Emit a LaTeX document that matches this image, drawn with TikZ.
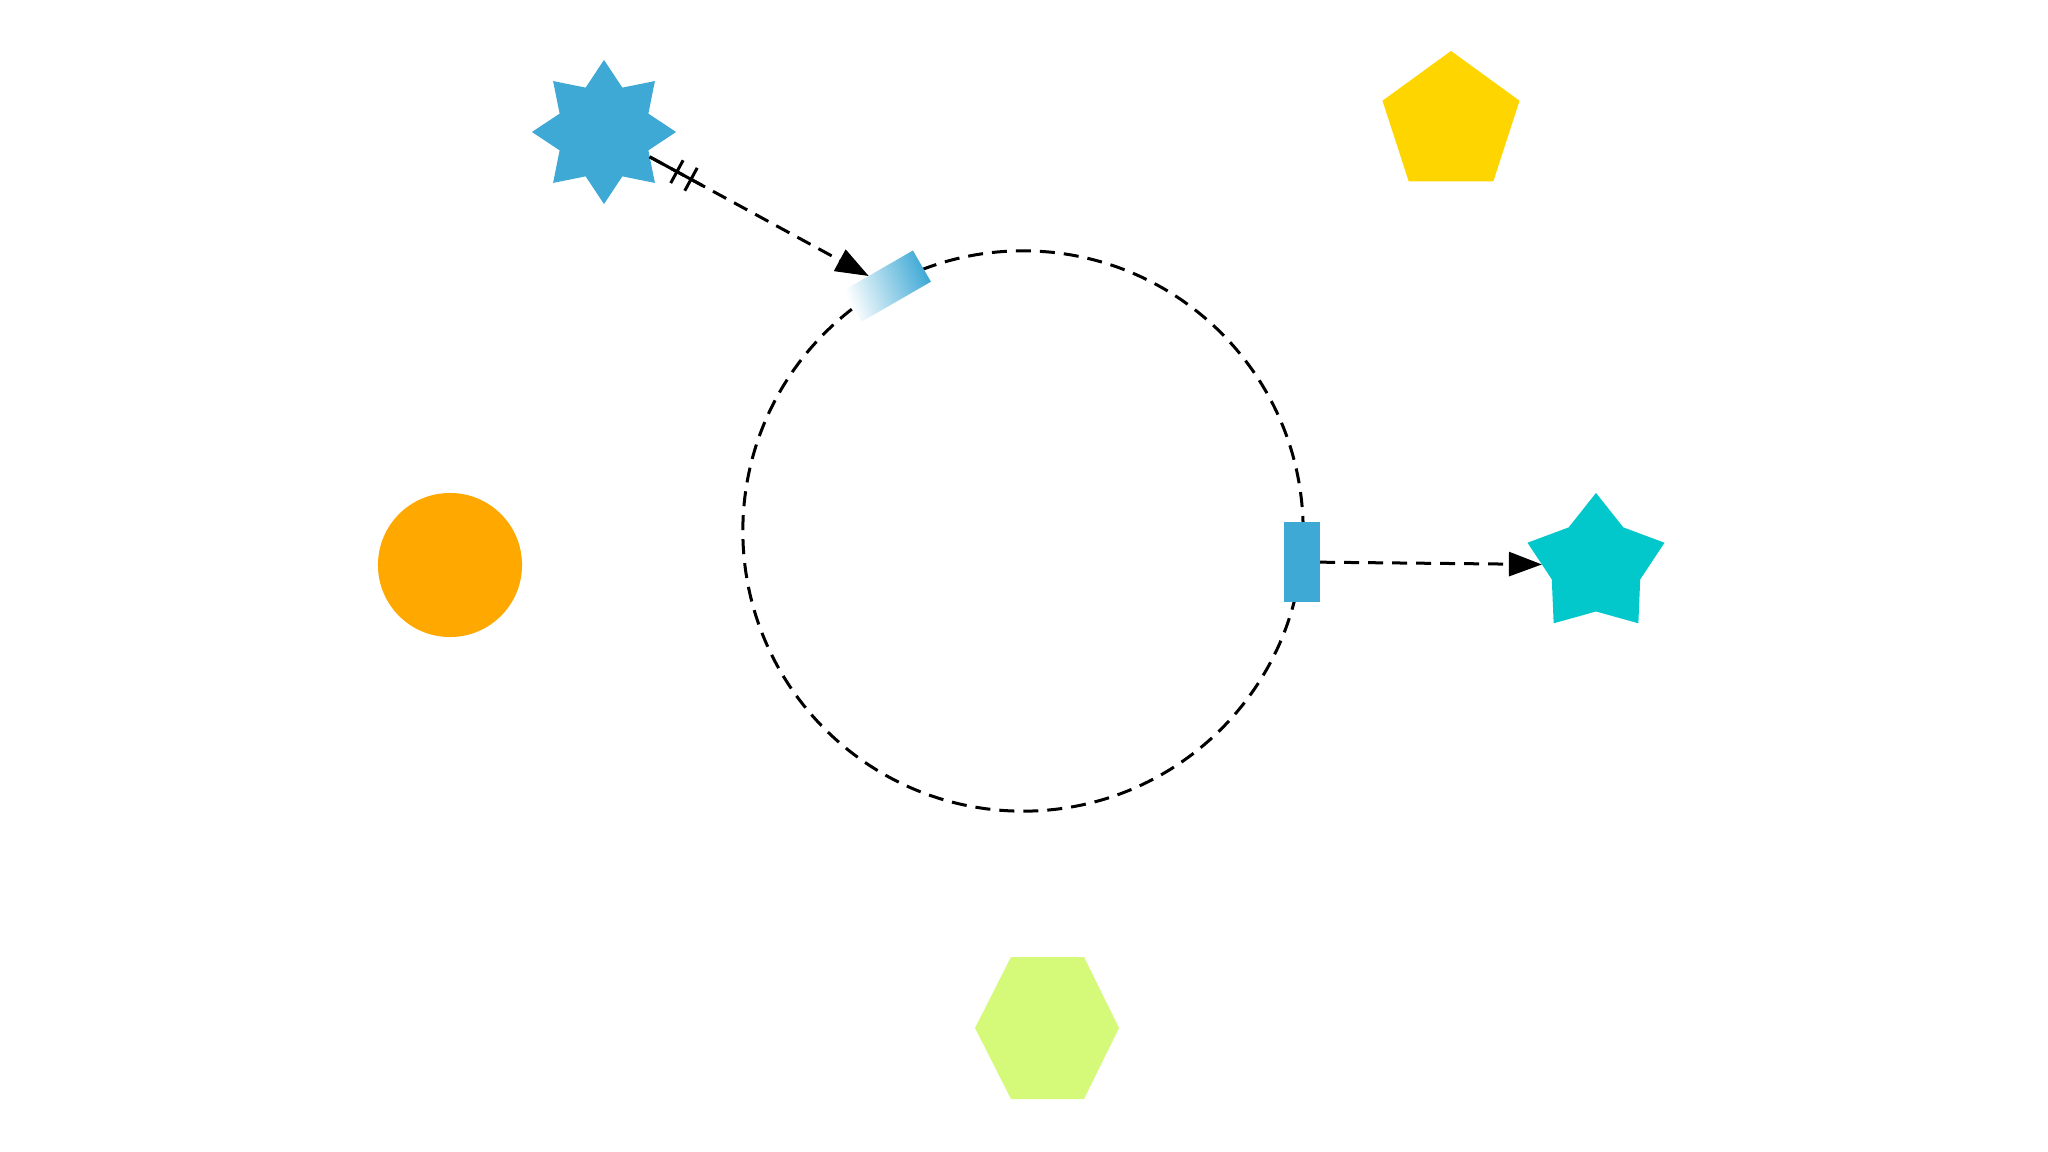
\documentclass[tikz,border=0pt]{standalone}
\usetikzlibrary{shapes.geometric,arrows.meta,calc,decorations.markings}
\definecolor{sblue}{RGB}{63,169,213}
\definecolor{scyan}{RGB}{2,200,204}
\definecolor{syellow}{RGB}{255,213,0}
\definecolor{sorange}{RGB}{255,168,0}
\definecolor{sgreen}{RGB}{213,250,122}
\tikzset{
  shp/.style={inner sep=0pt, outer sep=0pt, draw=none, minimum size=1.44cm},
  connline/.style={line width=0.03cm, dash pattern=on 0.15cm off 0.09cm, -{Triangle[length=0.33cm,width=0.24cm]}},
  ring/.style={line width=0.03cm, dash pattern=on 0.15cm off 0.09cm},
  portbox/.style={rectangle, inner sep=0pt, outer sep=0pt, minimum width=0.8cm, minimum height=0.36cm},
  ticks/.style={postaction={decorate, decoration={markings,
     mark=at position 0cm with {\draw[solid,-,line width=0.03cm] (0,0) -- (0.6cm,0);},
     mark=at position 0.31cm with {\draw[solid,-,line width=0.03cm] (0,-0.13cm) -- (0,0.13cm);},
     mark=at position 0.47cm with {\draw[solid,-,line width=0.03cm] (0,-0.13cm) -- (0,0.13cm);}}}}
}
\begin{document}
\begin{tikzpicture}[x=0.01cm,y=-0.01cm]
\useasboundingbox[fill=white] (0,0) rectangle (2048,1152);
\coordinate (c) at (1023,531);
\draw[ring] (c) circle (2.8cm);
% shapes
\node[shp, star, star points=8, star point ratio=1.5, fill=sblue] (s8) at (604,132) {};
\node[shp, regular polygon, regular polygon sides=5, fill=syellow] (pent) at (1451,123) {};
\node[shp, circle, fill=sorange] (orb) at (450,565) {};
\node[shp, star, star points=5, star point ratio=1.55, fill=scyan] (s5) at (1596,565) {};
\fill[sgreen] (975,1028) -- (1011,957) -- (1084,957) -- (1119,1028) -- (1084,1099) -- (1011,1099) -- cycle;
% ports on the ring
\node[portbox, rotate=30, top color=sblue, bottom color=white, shading angle=-70] (r1) at ($(c)+(-119:280)$) {};
\node[portbox, rotate=90, fill=sblue] (r2) at (1302,562) {};
% connectors
\draw[connline, ticks] (s8) -- (r1);
\draw[connline] (r2) -- (s5);
\end{tikzpicture}
\end{document}
